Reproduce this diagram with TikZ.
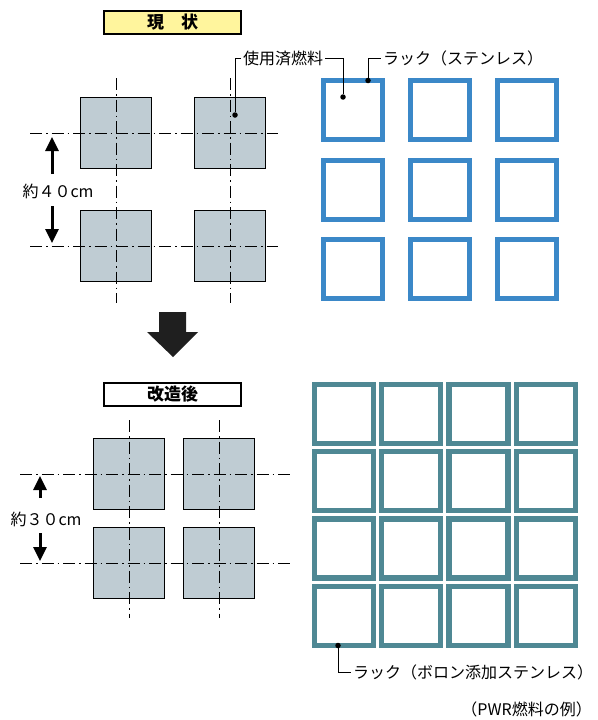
\documentclass[tikz,border=0pt]{standalone}
\usepackage{fontspec}
\setmainfont{Noto Sans CJK JP}
\usepackage{xcolor}
\usetikzlibrary{arrows.meta, positioning}

\definecolor{fuelgray}{HTML}{BFCCD3}
\definecolor{rackblue}{HTML}{3B88C8}
\definecolor{rackteal}{HTML}{4F8894}
\definecolor{titleyellow}{HTML}{FFF59D}

\begin{document}
\begin{tikzpicture}[
  x=1pt, y=-1pt,
  every node/.style={font=\fontsize{16}{19}\selectfont},
  fuel/.style={draw, line width=0.8pt, fill=fuelgray, minimum size=71pt, inner sep=0pt},
  rack/.style={draw=#1, line width=5pt, minimum size=59pt, inner sep=0pt},
  title/.style={draw, line width=2pt, minimum width=137pt, minimum height=23pt, inner sep=0pt, font=\fontsize{17}{19}\selectfont\bfseries},
  center line/.style={line width=0.7pt, dash pattern=on 12pt off 4pt on 1.5pt off 4pt},
  dot/.style={circle, fill=black, inner sep=0pt, minimum size=5.5pt},
  leader/.style={line width=0.8pt},
  lbl/.style={anchor=west, inner sep=2pt},
  arr/.style={-{Triangle[length=14pt, width=13pt]}, line width=3pt},
]
  \useasboundingbox (0,0) rectangle (597,720);

  % Current layout
  \node[title, fill=titleyellow] (now) at (172.5,22.5) {現\hspace{1em}状};
  \foreach \i/\x in {1/116,2/230} {
    \foreach \j/\y in {1/133,2/246} {
      \node[fuel] (fa\i\j) at (\x,\y) {};
    }
  }
  \foreach \y in {133,246} \draw[center line] (30,\y) -- (278,\y);
  \foreach \x in {116,230} \draw[center line] (\x,78) -- (\x,303);

  % size marks
  \node (gapA) at (58,191) {約４０cm};
  \coordinate (gapAup) at (52,137);
  \coordinate (gapAupTail) at (52,174);
  \coordinate (gapAdn) at (52,243);
  \coordinate (gapAdnTail) at (52,206);
  \draw[arr] (gapAupTail) -- (gapAup);
  \draw[arr] (gapAdnTail) -- (gapAdn);

  % stainless rack 3x3
  \foreach \i in {0,1,2} {
    \foreach \j in {0,1,2} {
      \node[rack=rackblue] (ra\i\j) at (353+87*\i, 110+79.7*\j) {};
    }
  }

  % labels top
  \node[dot] (dotFuel) at (235,115) {};
  \node[dot] (dotSlot) at (343,97) {};
  \node[dot] (dotRack) at (368,80.5) {};
  \node[lbl] (lblFuel) at (241,58) {使用済燃料};
  \node[lbl] (lblRack) at (381,58) {ラック（ステンレス）};
  \draw[leader] (dotFuel) |- (lblFuel.west);
  \draw[leader] (lblFuel.east) -| (dotSlot);
  \draw[leader] (dotRack) |- (lblRack.west);

  % big arrow
  \fill[black!88] (159,312) -- (186,312) -- (186,332) -- (198,332) -- (173,357)
    -- (147,332) -- (159,332) -- cycle;

  % Modified layout
  \node[title, fill=white] (after) at (172.5,394.5) {改造後};
  \foreach \i/\x in {1/129,2/219} {
    \foreach \j/\y in {1/474,2/563} {
      \node[fuel] (fb\i\j) at (\x,\y) {};
    }
  }
  \foreach \y in {474,563} \draw[center line] (20,\y) -- (293,\y);
  \foreach \x in {129,219} \draw[center line] (\x,420) -- (\x,618);

  \node (gapB) at (46,519) {約３０cm};
  \coordinate (gapBup) at (40,476);
  \coordinate (gapBupTail) at (40,498);
  \coordinate (gapBdn) at (40,561);
  \coordinate (gapBdnTail) at (40,533);
  \draw[arr] (gapBupTail) -- (gapBup);
  \draw[arr] (gapBdnTail) -- (gapBdn);

  % boron stainless rack 4x4
  \foreach \i in {0,1,2,3} {
    \foreach \j in {0,1,2,3} {
      \node[rack=rackteal, line width=5.3pt] (rb\i\j) at (344+67.3*\i, 414+67.3*\j) {};
    }
  }
  \node[dot] (dotBoron) at (338,645.5) {};
  \node[lbl] (lblBoron) at (351,672) {ラック（ボロン添加ステンレス）};
  \draw[leader] (dotBoron) |- (lblBoron.west);

  \node[anchor=east, inner sep=0pt] (note) at (592,709) {（PWR燃料の例）};
\end{tikzpicture}
\end{document}
